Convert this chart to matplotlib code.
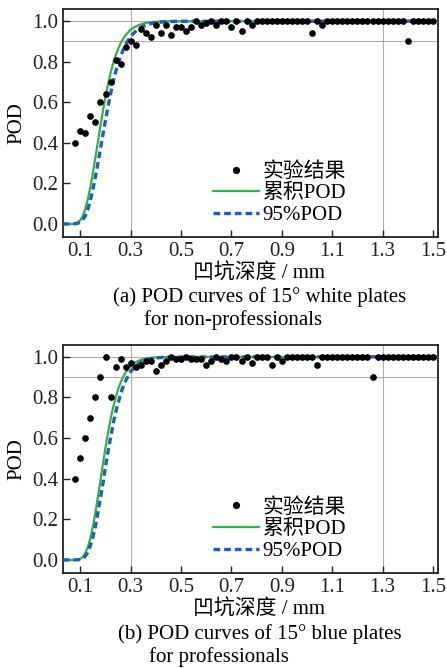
import matplotlib
matplotlib.use("Agg")
import matplotlib.pyplot as plt

plt.rcParams['font.family'] = ['Liberation Serif', 'Noto Sans CJK SC']
plt.rcParams['mathtext.fontset'] = 'stix'

# ---------------- data ----------------
depth_pts = [0.08, 0.10, 0.12, 0.14, 0.16, 0.18, 0.20, 0.22, 0.24, 0.26,
             0.28, 0.30, 0.32, 0.34, 0.36, 0.38, 0.40, 0.42, 0.44, 0.46,
             0.48, 0.50, 0.52, 0.54, 0.56, 0.58, 0.60, 0.62, 0.64, 0.66,
             0.68, 0.70, 0.72, 0.74, 0.76, 0.78, 0.80, 0.82, 0.84, 0.86,
             0.88, 0.90, 0.92, 0.94, 0.96, 0.98, 1.00, 1.02, 1.04, 1.06,
             1.08, 1.10, 1.12, 1.14, 1.16, 1.18, 1.20, 1.22, 1.24, 1.26,
             1.28, 1.30, 1.32, 1.34, 1.36, 1.38, 1.40, 1.42, 1.44, 1.46,
             1.48, 1.50]

pod_a = [0.40, 0.46, 0.45, 0.53, 0.50, 0.60, 0.64, 0.70, 0.81, 0.79,
         0.87, 0.90, 0.88, 0.96, 0.94, 0.92, 0.98, 0.94, 0.98, 0.93,
         0.97, 0.97, 0.95, 0.97, 1.00, 0.98, 0.99, 1.00, 0.98, 1.00,
         1.00, 0.97, 1.00, 0.95, 1.00, 0.98, 1.00, 1.00, 1.00, 1.00,
         1.00, 1.00, 1.00, 1.00, 1.00, 1.00, 1.00, 0.94, 1.00, 0.98,
         1.00, 1.00, 1.00, 1.00, 1.00, 1.00, 1.00, 1.00, 1.00, 1.00,
         1.00, 1.00, 1.00, 1.00, 1.00, 1.00, 0.90, 1.00, 1.00, 1.00,
         1.00, 1.00]

pod_b = [0.40, 0.50, 0.60, 0.70, 0.80, 0.90, 1.00, 0.80, 0.95, 0.99,
         0.95, 0.97, 0.95, 0.96, 0.98, 0.98, 0.93, 0.96, 0.98, 1.00,
         0.99, 0.99, 1.00, 0.99, 0.99, 0.99, 0.96, 0.98, 1.00, 0.99,
         0.98, 1.00, 1.00, 0.98, 1.00, 0.97, 1.00, 1.00, 1.00, 0.96,
         1.00, 0.98, 1.00, 1.00, 1.00, 1.00, 1.00, 1.00, 0.96, 1.00,
         1.00, 1.00, 1.00, 1.00, 1.00, 1.00, 1.00, 1.00, 1.00, 0.90,
         1.00, 1.00, 1.00, 1.00, 1.00, 1.00, 1.00, 1.00, 1.00, 1.00,
         1.00, 1.00]

# cumulative POD curve (a)
cum_x_a = [0.03, 0.06, 0.07, 0.08, 0.09, 0.10, 0.11, 0.12, 0.13, 0.14, 0.15,
           0.16, 0.17, 0.18, 0.19, 0.20, 0.21, 0.22, 0.23, 0.24, 0.25,
           0.26, 0.27, 0.28, 0.30, 0.32, 0.34, 0.36, 0.40, 0.45, 1.53]
cum_y_a = [0.0, 0.0, 0.0005, 0.0023, 0.0076, 0.019, 0.041, 0.076, 0.123, 0.183,
           0.253, 0.329, 0.407, 0.485, 0.559, 0.628, 0.689, 0.744, 0.790,
           0.830, 0.863, 0.891, 0.913, 0.931, 0.958, 0.974, 0.984, 0.991,
           0.997, 0.999, 1.0]
# 95% POD curve (a)
p95_x_a = [0.03, 0.066, 0.076, 0.087, 0.098, 0.109, 0.120, 0.131, 0.141, 0.152,
           0.163, 0.174, 0.185, 0.196, 0.207, 0.218, 0.228, 0.239, 0.250,
           0.261, 0.272, 0.283, 0.294, 0.305, 0.326, 0.348, 0.370, 0.392,
           0.435, 0.490, 1.53]
p95_y_a = cum_y_a

# cumulative POD curve (b)
cum_x_b = [0.03, 0.07, 0.08, 0.09, 0.10, 0.11, 0.12, 0.13, 0.14, 0.15, 0.16,
           0.17, 0.18, 0.19, 0.20, 0.21, 0.22, 0.23, 0.24, 0.25, 0.26,
           0.27, 0.28, 0.30, 0.32, 0.34, 0.36, 0.40, 0.45, 1.53]
cum_y_b = [0.0, 0.0, 0.0003, 0.0017, 0.0057, 0.015, 0.034, 0.064, 0.108, 0.166,
           0.235, 0.313, 0.394, 0.475, 0.555, 0.627, 0.693, 0.750, 0.799,
           0.840, 0.874, 0.902, 0.924, 0.955, 0.974, 0.985, 0.992, 0.997,
           0.999, 1.0]
p95_x_b = [0.03, 0.075, 0.085, 0.096, 0.107, 0.117, 0.128, 0.138, 0.149, 0.160,
           0.170, 0.181, 0.192, 0.202, 0.213, 0.224, 0.234, 0.245, 0.256,
           0.266, 0.277, 0.288, 0.298, 0.320, 0.341, 0.362, 0.383, 0.426,
           0.479, 1.53]
p95_y_b = cum_y_b

xticks = [0.1, 0.3, 0.5, 0.7, 0.9, 1.1, 1.3, 1.5]
xtick_labels = ['0.1', '0.3', '0.5', '0.7', '0.9', '1.1', '1.3', '1.5']
yticks = [0.0, 0.2, 0.4, 0.6, 0.8, 1.0]
ytick_labels = ['0.0', '0.2', '0.4', '0.6', '0.8', '1.0']
ref_x = [0.3, 1.3]
ref_y = [0.9, 1.0]

legend_labels = ['实验结果', '累积POD', '95%POD']
xlabel = '凹坑深度 / mm'
ylabel = 'POD'
captions = [('(a) POD curves of 15° white plates', 'for non-professionals'),
            ('(b) POD curves of 15° blue plates', 'for professionals')]

# ---------------- figure ----------------
W, H = 447, 668
fig = plt.figure(figsize=(W / 100, H / 100), dpi=100)

grid_c = '#d690da'
green = '#30b24a'
blue = '#1f5cc4'
FS = 15

def px(x0, y0, x1, y1):
    return [x0 / W, 1 - y1 / H, (x1 - x0) / W, (y1 - y0) / H]

panels = [
    (px(62.7, 9.3, 438, 236.7), pod_a, cum_x_a, cum_y_a, p95_x_a, p95_y_a,
     274, 297.5, 320, 260, 233),
    (px(62.7, 345, 438, 572.7), pod_b, cum_x_b, cum_y_b, p95_x_b, p95_y_b,
     610, 634.5, 657, 260, 218.5),
]

for (rect, pods, cx, cy, bx, by, xl_y, c1_y, c2_y, c1_x, c2_x), cap in zip(panels, captions):
    ax = fig.add_axes(rect)
    for v in ref_x:
        ax.axvline(v, color=grid_c, lw=0.8, zorder=1)
    for v in ref_y:
        ax.axhline(v, color=grid_c, lw=0.8, zorder=1)
    l1, = ax.plot(cx, cy, color=green, lw=1.6, zorder=3, label=legend_labels[1])
    l2, = ax.plot(bx, by, color=blue, lw=2.4, ls=(0, (2.0, 1.2)), zorder=4,
                  label=legend_labels[2])
    sc, = ax.plot(depth_pts, pods, 'o', color='black', ms=3.8, ls='none',
                  zorder=5, label=legend_labels[0])
    ax.set_xlim(0.03, 1.52)
    ax.set_ylim(-0.063, 1.058)
    ax.set_xticks(xticks)
    ax.set_xticklabels(xtick_labels)
    ax.set_yticks(yticks)
    ax.set_yticklabels(ytick_labels)
    ax.tick_params(axis='both', direction='in', length=5, width=1.0,
                   labelsize=FS, colors='#222222')
    ax.tick_params(axis='x', pad=4)
    ax.tick_params(axis='y', pad=3)
    for s in ax.spines.values():
        s.set_linewidth(1.3)
        s.set_color('#222222')
    ax.set_ylabel(ylabel, fontsize=FS, labelpad=4)
    leg = ax.legend([sc, l1, l2], legend_labels, loc='upper left',
                    bbox_to_anchor=(0.40, 0.328), frameon=False, fontsize=FS,
                    handlelength=2.2, handletextpad=0.2, labelspacing=0.1,
                    borderpad=0, borderaxespad=0, markerscale=1.1)
    fig.text(259 / W, 1 - xl_y / H, xlabel, ha='center', va='center', fontsize=FS)
    fig.text(c1_x / W, 1 - c1_y / H, cap[0], ha='center', va='center', fontsize=FS)
    fig.text(c2_x / W, 1 - c2_y / H, cap[1], ha='center', va='center', fontsize=FS)

fig.savefig('out.png', dpi=100)
